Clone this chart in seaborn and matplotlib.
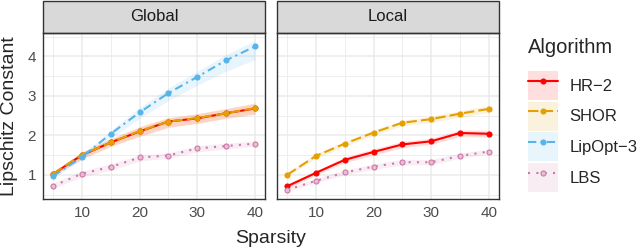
import numpy as np
import pandas as pd
import seaborn as sns
import matplotlib.pyplot as plt
from matplotlib.patches import Patch, Rectangle
from matplotlib.lines import Line2D
from matplotlib.legend_handler import HandlerTuple

sparsity = [5, 10, 15, 20, 25, 30, 35, 40]
algorithms = ["HR−2", "SHOR", "LipOpt−3", "LBS"]
panels = ["Global", "Local"]

# Global panel: mean, lower, upper
glob_hr2 = [1.02, 1.50, 1.82, 2.10, 2.35, 2.43, 2.56, 2.68]
glob_hr2_lo = [0.97, 1.40, 1.72, 1.97, 2.20, 2.30, 2.43, 2.53]
glob_hr2_hi = [1.08, 1.58, 1.92, 2.22, 2.45, 2.55, 2.68, 2.82]
glob_shor = [1.03, 1.51, 1.82, 2.11, 2.35, 2.44, 2.56, 2.69]
glob_shor_lo = [0.98, 1.42, 1.73, 1.99, 2.22, 2.31, 2.44, 2.55]
glob_shor_hi = [1.08, 1.58, 1.91, 2.21, 2.45, 2.54, 2.67, 2.80]
glob_lipopt = [0.97, 1.45, 2.04, 2.58, 3.07, 3.48, 3.90, 4.25]
glob_lipopt_lo = [0.92, 1.38, 1.93, 2.43, 2.88, 3.27, 3.62, 3.92]
glob_lipopt_hi = [1.02, 1.52, 2.12, 2.70, 3.20, 3.62, 4.05, 4.40]
glob_lbs = [0.72, 1.03, 1.20, 1.44, 1.49, 1.67, 1.73, 1.79]
glob_lbs_lo = [0.65, 0.95, 1.12, 1.35, 1.42, 1.58, 1.66, 1.72]
glob_lbs_hi = [0.80, 1.10, 1.28, 1.50, 1.56, 1.74, 1.80, 1.86]

# Local panel (no LipOpt-3)
loc_hr2 = [0.71, 1.05, 1.38, 1.58, 1.77, 1.85, 2.06, 2.04]
loc_hr2_lo = [0.65, 0.99, 1.31, 1.50, 1.69, 1.77, 1.97, 1.95]
loc_hr2_hi = [0.77, 1.11, 1.45, 1.66, 1.85, 1.93, 2.14, 2.13]
loc_shor = [1.00, 1.48, 1.79, 2.07, 2.32, 2.41, 2.55, 2.67]
loc_shor_lo = [0.96, 1.42, 1.72, 2.00, 2.25, 2.33, 2.46, 2.58]
loc_shor_hi = [1.04, 1.54, 1.85, 2.14, 2.38, 2.48, 2.63, 2.76]
loc_lbs = [0.62, 0.85, 1.06, 1.21, 1.32, 1.32, 1.48, 1.59]
loc_lbs_lo = [0.58, 0.80, 1.00, 1.14, 1.25, 1.26, 1.42, 1.53]
loc_lbs_hi = [0.67, 0.90, 1.12, 1.28, 1.39, 1.39, 1.55, 1.65]

series = {
    ("Global", "HR−2"): (glob_hr2, glob_hr2_lo, glob_hr2_hi),
    ("Global", "SHOR"): (glob_shor, glob_shor_lo, glob_shor_hi),
    ("Global", "LipOpt−3"): (glob_lipopt, glob_lipopt_lo, glob_lipopt_hi),
    ("Global", "LBS"): (glob_lbs, glob_lbs_lo, glob_lbs_hi),
    ("Local", "HR−2"): (loc_hr2, loc_hr2_lo, loc_hr2_hi),
    ("Local", "SHOR"): (loc_shor, loc_shor_lo, loc_shor_hi),
    ("Local", "LBS"): (loc_lbs, loc_lbs_lo, loc_lbs_hi),
}

rows = []
for (panel, alg), (m, lo, hi) in series.items():
    for s, a, b, c in zip(sparsity, m, lo, hi):
        rows.append(dict(panel=panel, algorithm=alg, sparsity=s, value=a, lo=b, hi=c))
df = pd.DataFrame(rows)

colors = {"HR−2": "#FF0000", "SHOR": "#E69F00", "LipOpt−3": "#56B4E9", "LBS": "#CC79A7"}
dashes = {"HR−2": "", "SHOR": (5, 2), "LipOpt−3": (4, 2, 1, 2), "LBS": (1, 3)}
markers = {a: "o" for a in algorithms}
lbs_face = "#E9BCD6"
msize = 3.6

sns.set_style("white")
plt.rcParams["font.family"] = ["Liberation Sans", "DejaVu Sans"]

fig, axes = plt.subplots(1, 2, sharey=True, figsize=(6.4, 2.5), dpi=100)
fig.subplots_adjust(left=43 / 640, right=499 / 640, top=1 - 33 / 250, bottom=1 - 199 / 250, wspace=12 / 222)

span = df.hi.max() - df.lo.min()
ylim = (df.lo.min() - 0.05 * span, df.hi.max() + 0.05 * span)

strip_h = 32 / 166
for ax, panel in zip(axes, panels):
    sub = df[df.panel == panel]
    for alg in algorithms:
        d = sub[sub.algorithm == alg]
        if len(d):
            ax.fill_between(d.sparsity, d.lo, d.hi, color=colors[alg], alpha=0.13, lw=0)
    sns.lineplot(data=sub, x="sparsity", y="value", hue="algorithm", style="algorithm",
                 hue_order=algorithms, style_order=algorithms, palette=colors,
                 dashes=dashes, markers=markers, markersize=msize, linewidth=1.5,
                 errorbar=None, legend=False, ax=ax)
    for ln in ax.lines:
        ln.set_markeredgecolor(ln.get_color())
        ln.set_markeredgewidth(0.8)
        if np.allclose(plt.matplotlib.colors.to_rgb(ln.get_color()),
                       plt.matplotlib.colors.to_rgb(colors["LBS"])):
            ln.set_markerfacecolor(lbs_face)

    ax.set_xlim(5 - 0.05 * 35, 40 + 0.05 * 35)
    ax.set_ylim(*ylim)
    ax.set_xticks([10, 20, 30, 40])
    ax.set_xticks([5, 15, 25, 35], minor=True)
    ax.set_yticks([1, 2, 3, 4])
    ax.set_yticks([0.5, 1.5, 2.5, 3.5, 4.5], minor=True)
    ax.grid(which="major", color="#EBEBEB", lw=1.1)
    ax.grid(which="minor", color="#EBEBEB", lw=0.6)
    ax.set_axisbelow(True)
    ax.tick_params(which="major", length=3, width=0.9, color="#333333",
                   labelcolor="#4D4D4D", labelsize=11, pad=2)
    ax.tick_params(which="minor", length=0)
    for sp in ax.spines.values():
        sp.set_color("#333333")
        sp.set_linewidth(1)
    ax.set_xlabel("")
    ax.set_ylabel("")
    ax.add_patch(Rectangle((0, 1), 1, strip_h, transform=ax.transAxes, clip_on=False,
                           fc="#D9D9D9", ec="#333333", lw=1))
    ax.text(0.5, 1 + strip_h / 2, panel, transform=ax.transAxes, ha="center", va="center",
            fontsize=12, color="#1A1A1A")

axes[1].tick_params(axis="y", left=False, labelleft=False)

fig.text(271 / 640, 1 - 243 / 250, "Sparsity", ha="center", va="baseline", fontsize=14)
fig.text(10 / 640, 1 - 116 / 250, "Lipschitz Constant", ha="center", va="center",
         rotation=90, fontsize=14)

handles = []
for alg in algorithms:
    patch = Patch(facecolor=colors[alg], alpha=0.13, edgecolor="none")
    mfc = lbs_face if alg == "LBS" else colors[alg]
    line = Line2D([], [], color=colors[alg], lw=1.5,
                  dashes=dashes[alg] if dashes[alg] else (None, None),
                  marker="o", markersize=msize, mfc=mfc, mec=colors[alg], mew=0.8)
    handles.append((patch, line))

leg = fig.legend(handles, algorithms, handler_map={tuple: HandlerTuple(ndivide=1, pad=0)},
                 loc="upper left", bbox_to_anchor=(528 / 640, 1 - 38 / 250), frameon=False,
                 title="Algorithm", title_fontsize=14.5, fontsize=12, alignment="left",
                 handlelength=1.8, handleheight=2.3, labelspacing=0.1, handletextpad=0.7,
                 borderpad=0, borderaxespad=0)
leg._legend_box.sep = 10

fig.savefig("out.png", dpi=100)
